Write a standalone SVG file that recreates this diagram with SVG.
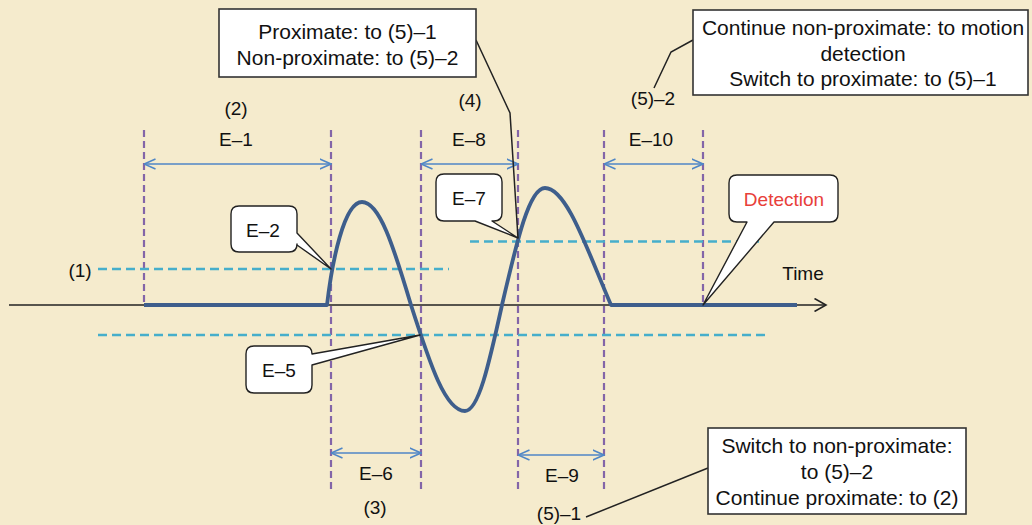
<svg xmlns="http://www.w3.org/2000/svg" width="1032" height="525" viewBox="0 0 1032 525">
<style>
text{font-family:"Liberation Sans",Arial,sans-serif;fill:#111;}
.lbl{font-size:19px;text-anchor:middle;}
.box{font-size:21px;text-anchor:middle;}
.vline{stroke:#8365A8;stroke-width:2.2;stroke-dasharray:7,4;fill:none;}
.thr{stroke:#46AECB;stroke-width:2.4;stroke-dasharray:9,5;fill:none;}
.dim{stroke:#4F86C6;stroke-width:1.6;fill:none;marker-start:url(#chev);marker-end:url(#chev);}
.sq{fill:#fff;stroke:#333;stroke-width:1.6;}
.call{fill:#fff;stroke:#222;stroke-width:1.4;stroke-linejoin:round;}
.lead{stroke:#222;stroke-width:1.5;fill:none;}
</style>
<defs>
<marker id="chev" viewBox="0 0 12 12" refX="11.5" refY="6" markerWidth="12" markerHeight="12" markerUnits="userSpaceOnUse" orient="auto-start-reverse">
<path d="M0,1 L11.5,6 L0,11" fill="none" stroke="#4F86C6" stroke-width="1.6"/>
</marker>
<marker id="axarr" viewBox="0 0 14 14" refX="12.5" refY="7" markerWidth="14" markerHeight="14" markerUnits="userSpaceOnUse" orient="auto">
<path d="M1,0.5 L12.5,7 L1,13.5" fill="none" stroke="#222" stroke-width="1.6"/>
</marker>
</defs>
<rect x="0" y="0" width="1032" height="525" fill="#F5EBCD"/>

<g id="verticals">
<line class="vline" x1="144" y1="130" x2="144" y2="305"/>
<line class="vline" x1="331" y1="130" x2="331" y2="491"/>
<line class="vline" x1="421" y1="130" x2="421" y2="491"/>
<line class="vline" x1="518" y1="130" x2="518" y2="491"/>
<line class="vline" x1="604" y1="130" x2="604" y2="491"/>
<line class="vline" x1="703" y1="130" x2="703" y2="305"/>
</g>

<g id="thresholds">
<line class="thr" x1="98" y1="269" x2="449" y2="269"/>
<line class="thr" x1="470" y1="241.5" x2="764" y2="241.5"/>
<line class="thr" x1="98" y1="335" x2="765" y2="335"/>
</g>

<g id="axis">
<line x1="9" y1="305" x2="826" y2="305" stroke="#222" stroke-width="1.6" marker-end="url(#axarr)"/>
<text class="lbl" x="803" y="280">Time</text>
</g>

<g id="signal">
<path d="M144,305 L327,305 C332,262 344,202 362,202 C379.6,202 393.4,246.1 411,305 C430.4,365.6 445.6,411 465,411 C478.3,411 488.7,365.6 502,305 C517.5,238.1 529.5,188 545,188 C567,188 588,252 611,305 L797,305" fill="none" stroke="#3E5E8C" stroke-width="3.8" stroke-linejoin="round"/>
</g>

<g id="dimensions">
<line class="dim" x1="144" y1="164" x2="331" y2="164"/>
<line class="dim" x1="421" y1="164" x2="518" y2="164"/>
<line class="dim" x1="604" y1="164" x2="703" y2="164"/>
<line class="dim" x1="331" y1="453" x2="421" y2="453"/>
<line class="dim" x1="518" y1="455" x2="604" y2="455"/>
</g>

<g id="labels">
<text class="lbl" x="236" y="115">(2)</text>
<text class="lbl" x="236" y="146">E–1</text>
<text class="lbl" x="470" y="107">(4)</text>
<text class="lbl" x="469" y="146">E–8</text>
<text class="lbl" x="651" y="146">E–10</text>
<text class="lbl" x="653" y="105">(5)–2</text>
<text class="lbl" x="80" y="277">(1)</text>
<text class="lbl" x="376" y="480">E–6</text>
<text class="lbl" x="375" y="514">(3)</text>
<text class="lbl" x="562" y="482">E–9</text>
<text class="lbl" x="559" y="520">(5)–1</text>
</g>

<g id="connectors">
<polyline class="lead" points="476,40 510,113 518,238"/>
<polyline class="lead" points="693,40 671,52 654,88"/>
<line class="lead" x1="586" y1="517" x2="708" y2="468"/>
</g>

<g id="box-proximate">
<rect class="sq" x="219" y="9" width="257" height="68"/>
<text class="box" x="347.5" y="39">Proximate: to (5)–1</text>
<text class="box" x="347.5" y="65">Non-proximate: to (5)–2</text>
</g>

<g id="box-nonproximate">
<rect class="sq" x="693" y="10" width="335" height="85"/>
<text class="box" x="863" y="35">Continue non-proximate: to motion</text>
<text class="box" x="863" y="61">detection</text>
<text class="box" x="863" y="86">Switch to proximate: to (5)–1</text>
</g>

<g id="box-switch">
<rect class="sq" x="708" y="428" width="258" height="86"/>
<text class="box" x="837" y="453">Switch to non-proximate:</text>
<text class="box" x="837" y="479">to (5)–2</text>
<text class="box" x="837" y="505">Continue proximate: to (2)</text>
</g>

<g id="callout-e2">
<path class="call" d="M239,206 H289 Q297,206 297,214 V233 L331,269 L297,245 V244 Q297,252 289,252 H239 Q231,252 231,244 V214 Q231,206 239,206 Z"/>
<text class="lbl" x="263" y="237">E–2</text>
</g>

<g id="callout-e5">
<path class="call" d="M254,346 H304 Q312,346 312,354 L420,335 L312,365 V385 Q312,393 304,393 H254 Q246,393 246,385 V354 Q246,346 254,346 Z"/>
<text class="lbl" x="279" y="377">E–5</text>
</g>

<g id="callout-e7">
<path class="call" d="M444,174 H494 Q502,174 502,182 V213 Q502,221 494,221 H492 L518,238 L475,221 H444 Q436,221 436,213 V182 Q436,174 444,174 Z"/>
<text class="lbl" x="469" y="205">E–7</text>
</g>

<g id="callout-detection">
<path class="call" d="M737,175 H830 Q838,175 838,183 V214 Q838,222 830,222 H774 L703,305 L747,222 H737 Q729,222 729,214 V183 Q729,175 737,175 Z"/>
<text class="lbl" x="784" y="206" style="fill:#E8403A">Detection</text>
</g>
</svg>
